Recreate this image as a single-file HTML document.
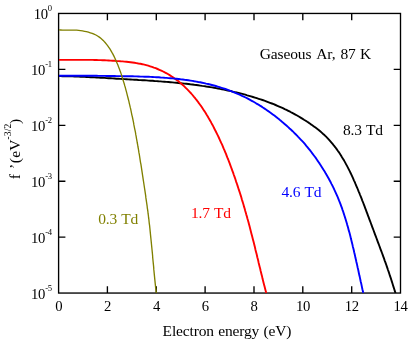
<!DOCTYPE html><html><head><meta charset="utf-8"><style>html,body{margin:0;padding:0;background:#fff}</style></head><body><svg width="411" height="342" viewBox="0 0 411 342" style="display:block;will-change:transform;font-family:'Liberation Serif',serif">
<rect width="411" height="342" fill="#fff"/>
<g stroke="#000" stroke-width="1.35" fill="none">
<rect x="58.6" y="13.45" width="341.9" height="279.6"/>
<path d="M107.4,293.0v-6.8M107.4,13.45v6.8M156.3,293.0v-6.8M156.3,13.45v6.8M205.1,293.0v-6.8M205.1,13.45v6.8M254.0,293.0v-6.8M254.0,13.45v6.8M302.8,293.0v-6.8M302.8,13.45v6.8M351.7,293.0v-6.8M351.7,13.45v6.8M58.6,237.1h6.8M400.5,237.1h-6.8M58.6,181.2h6.8M400.5,181.2h-6.8M58.6,125.3h6.8M400.5,125.3h-6.8M58.6,69.4h6.8M400.5,69.4h-6.8"/>
</g>
<clipPath id="c"><rect x="59.0" y="13.45" width="341.5" height="280.05"/></clipPath>
<g fill="none" stroke-linejoin="round" clip-path="url(#c)">
<path d="M58.6,76.1 L60.6,76.1 L62.6,76.2 L64.6,76.2 L66.6,76.2 L68.6,76.3 L70.6,76.3 L72.6,76.4 L74.6,76.5 L76.6,76.5 L78.6,76.6 L80.6,76.7 L82.6,76.8 L84.6,76.9 L86.6,77.0 L88.6,77.1 L90.6,77.2 L92.6,77.3 L94.6,77.4 L96.6,77.5 L98.6,77.6 L100.6,77.7 L102.6,77.8 L104.6,77.9 L106.6,78.1 L108.6,78.2 L110.5,78.3 L112.5,78.4 L114.5,78.5 L116.5,78.7 L118.5,78.8 L120.5,78.9 L122.5,79.0 L124.5,79.1 L126.5,79.2 L128.5,79.4 L130.5,79.5 L132.5,79.6 L134.5,79.7 L136.5,79.8 L138.5,80.0 L140.5,80.1 L142.5,80.2 L144.5,80.3 L146.5,80.4 L148.5,80.6 L150.5,80.7 L152.5,80.8 L154.5,81.0 L156.5,81.1 L158.5,81.3 L160.5,81.4 L162.4,81.6 L164.4,81.7 L166.4,81.9 L168.4,82.0 L170.4,82.2 L172.4,82.4 L174.4,82.6 L176.4,82.8 L178.4,83.0 L180.4,83.2 L182.4,83.4 L184.4,83.6 L186.3,83.8 L188.3,84.0 L190.3,84.3 L192.3,84.5 L194.3,84.8 L196.3,85.0 L198.2,85.3 L200.2,85.6 L202.2,85.9 L204.2,86.1 L206.2,86.5 L208.1,86.8 L210.1,87.1 L212.1,87.4 L214.1,87.8 L216.0,88.1 L218.0,88.5 L220.0,88.9 L221.9,89.2 L223.9,89.6 L225.8,90.0 L227.8,90.5 L229.7,90.9 L231.7,91.3 L233.6,91.8 L235.6,92.3 L237.5,92.7 L239.5,93.2 L241.4,93.7 L243.3,94.2 L245.3,94.7 L247.2,95.3 L249.1,95.8 L251.0,96.4 L253.0,97.0 L254.9,97.6 L256.8,98.2 L258.7,98.8 L260.6,99.4 L262.5,100.0 L264.4,100.7 L266.2,101.4 L268.1,102.1 L270.0,102.8 L271.9,103.5 L273.7,104.2 L275.6,105.0 L277.4,105.8 L279.2,106.6 L281.1,107.4 L282.9,108.2 L284.7,109.1 L286.5,109.9 L288.3,110.8 L290.1,111.7 L291.8,112.7 L293.6,113.6 L295.4,114.6 L297.1,115.5 L298.8,116.5 L300.6,117.6 L302.3,118.6 L304.0,119.7 L305.7,120.7 L307.3,121.8 L309.0,122.9 L310.6,124.1 L312.3,125.2 L313.9,126.4 L315.5,127.6 L317.1,128.8 L318.7,130.0 L320.2,131.3 L321.7,132.6 L323.2,134.0 L324.7,135.3 L326.1,136.7 L327.5,138.1 L328.9,139.6 L330.2,141.1 L331.5,142.6 L332.8,144.1 L334.0,145.7 L335.3,147.3 L336.5,148.9 L337.6,150.5 L338.8,152.1 L339.9,153.8 L341.0,155.5 L342.0,157.2 L343.1,158.9 L344.1,160.6 L345.1,162.4 L346.0,164.1 L347.0,165.9 L347.9,167.6 L348.8,169.4 L349.7,171.2 L350.6,173.0 L351.5,174.8 L352.3,176.6 L353.1,178.4 L353.9,180.3 L354.8,182.1 L355.5,183.9 L356.3,185.8 L357.1,187.6 L357.9,189.5 L358.6,191.3 L359.4,193.2 L360.1,195.0 L360.9,196.9 L361.6,198.7 L362.3,200.6 L363.1,202.5 L363.8,204.3 L364.5,206.2 L365.2,208.1 L365.9,209.9 L366.6,211.8 L367.3,213.7 L368.0,215.6 L368.7,217.4 L369.4,219.3 L370.1,221.2 L370.8,223.0 L371.5,224.9 L372.2,226.8 L372.9,228.7 L373.6,230.5 L374.3,232.4 L375.0,234.3 L375.7,236.2 L376.4,238.0 L377.1,239.9 L377.8,241.8 L378.5,243.7 L379.2,245.5 L379.9,247.4 L380.6,249.3 L381.3,251.2 L382.0,253.0 L382.7,254.9 L383.4,256.8 L384.1,258.7 L384.7,260.6 L385.4,262.4 L386.1,264.3 L386.7,266.2 L387.4,268.1 L388.0,270.0 L388.7,271.9 L389.3,273.8 L389.9,275.7 L390.6,277.6 L391.2,279.5 L391.8,281.4 L392.4,283.3 L393.0,285.2 L393.6,287.1 L394.2,289.0 L394.8,290.9 L395.4,292.8 L395.4,293.0" stroke="#000" stroke-width="1.9"/>
<path d="M58.6,59.9 L60.6,59.9 L62.6,59.9 L64.6,59.9 L66.6,59.9 L68.6,59.9 L70.6,59.9 L72.6,59.9 L74.6,59.9 L76.6,59.9 L78.6,59.9 L80.6,59.9 L82.6,59.9 L84.6,59.9 L86.6,59.9 L88.6,59.9 L90.6,59.9 L92.6,59.9 L94.6,60.0 L96.6,60.0 L98.6,60.1 L100.6,60.1 L102.6,60.2 L104.6,60.3 L106.6,60.4 L108.6,60.5 L110.6,60.6 L112.6,60.7 L114.6,60.8 L116.6,61.0 L118.6,61.1 L120.6,61.3 L122.6,61.4 L124.5,61.6 L126.5,61.8 L128.5,62.0 L130.5,62.2 L132.5,62.5 L134.5,62.8 L136.4,63.1 L138.4,63.5 L140.4,63.8 L142.3,64.2 L144.3,64.7 L146.2,65.2 L148.2,65.7 L150.1,66.3 L152.0,66.9 L153.9,67.6 L155.7,68.2 L157.6,69.0 L159.4,69.8 L161.3,70.6 L163.1,71.5 L164.8,72.4 L166.6,73.3 L168.3,74.3 L170.0,75.4 L171.7,76.5 L173.4,77.6 L175.0,78.7 L176.6,79.9 L178.2,81.1 L179.8,82.4 L181.3,83.7 L182.8,85.0 L184.3,86.4 L185.7,87.8 L187.1,89.2 L188.5,90.6 L189.9,92.1 L191.2,93.5 L192.5,95.0 L193.8,96.6 L195.1,98.1 L196.3,99.7 L197.6,101.3 L198.7,102.9 L199.9,104.5 L201.1,106.1 L202.2,107.8 L203.3,109.5 L204.4,111.1 L205.5,112.8 L206.5,114.5 L207.6,116.2 L208.6,118.0 L209.6,119.7 L210.6,121.4 L211.5,123.2 L212.5,124.9 L213.4,126.7 L214.3,128.5 L215.2,130.3 L216.1,132.0 L217.0,133.8 L217.9,135.6 L218.8,137.5 L219.6,139.3 L220.4,141.1 L221.2,142.9 L222.1,144.7 L222.9,146.6 L223.6,148.4 L224.4,150.2 L225.2,152.1 L226.0,153.9 L226.7,155.8 L227.4,157.7 L228.2,159.5 L228.9,161.4 L229.6,163.2 L230.3,165.1 L231.0,167.0 L231.7,168.9 L232.4,170.8 L233.1,172.6 L233.7,174.5 L234.4,176.4 L235.1,178.3 L235.7,180.2 L236.3,182.1 L237.0,184.0 L237.6,185.9 L238.2,187.8 L238.8,189.7 L239.5,191.6 L240.1,193.5 L240.7,195.4 L241.3,197.3 L241.8,199.2 L242.4,201.1 L243.0,203.1 L243.6,205.0 L244.1,206.9 L244.7,208.8 L245.2,210.7 L245.8,212.7 L246.3,214.6 L246.9,216.5 L247.4,218.4 L248.0,220.4 L248.5,222.3 L249.0,224.2 L249.5,226.1 L250.0,228.1 L250.5,230.0 L251.0,232.0 L251.5,233.9 L252.0,235.8 L252.5,237.8 L253.0,239.7 L253.5,241.6 L254.0,243.6 L254.5,245.5 L255.0,247.5 L255.4,249.4 L255.9,251.4 L256.4,253.3 L256.9,255.2 L257.3,257.2 L257.8,259.1 L258.3,261.1 L258.7,263.0 L259.2,265.0 L259.7,266.9 L260.2,268.8 L260.6,270.8 L261.1,272.7 L261.6,274.7 L262.1,276.6 L262.5,278.6 L263.0,280.5 L263.5,282.4 L264.0,284.4 L264.5,286.3 L265.0,288.3 L265.5,290.2 L266.0,292.1 L266.2,293.0" stroke="#ff0000" stroke-width="1.9"/>
<path d="M58.6,75.7 L60.6,75.7 L62.6,75.7 L64.6,75.7 L66.6,75.7 L68.6,75.7 L70.6,75.7 L72.6,75.7 L74.6,75.7 L76.6,75.7 L78.6,75.7 L80.6,75.7 L82.6,75.8 L84.6,75.8 L86.6,75.8 L88.6,75.8 L90.6,75.8 L92.6,75.8 L94.6,75.8 L96.6,75.8 L98.6,75.9 L100.6,75.9 L102.6,75.9 L104.6,75.9 L106.6,76.0 L108.6,76.0 L110.6,76.0 L112.6,76.0 L114.6,76.0 L116.6,76.1 L118.6,76.1 L120.6,76.1 L122.6,76.2 L124.6,76.2 L126.6,76.2 L128.6,76.3 L130.6,76.3 L132.6,76.3 L134.6,76.4 L136.6,76.4 L138.6,76.5 L140.6,76.6 L142.6,76.6 L144.6,76.7 L146.6,76.8 L148.6,76.8 L150.6,76.9 L152.6,77.0 L154.6,77.1 L156.6,77.2 L158.6,77.3 L160.6,77.5 L162.6,77.6 L164.6,77.8 L166.6,77.9 L168.5,78.1 L170.5,78.2 L172.5,78.4 L174.5,78.6 L176.5,78.8 L178.5,79.0 L180.5,79.3 L182.5,79.5 L184.5,79.8 L186.4,80.0 L188.4,80.3 L190.4,80.6 L192.4,80.9 L194.3,81.3 L196.3,81.6 L198.3,82.0 L200.2,82.3 L202.2,82.7 L204.2,83.1 L206.1,83.6 L208.1,84.0 L210.0,84.5 L211.9,85.0 L213.9,85.5 L215.8,86.0 L217.7,86.6 L219.6,87.2 L221.6,87.8 L223.5,88.4 L225.4,89.0 L227.2,89.7 L229.1,90.4 L231.0,91.1 L232.9,91.8 L234.7,92.6 L236.5,93.3 L238.4,94.1 L240.2,94.9 L242.0,95.8 L243.8,96.6 L245.6,97.5 L247.4,98.4 L249.2,99.4 L250.9,100.3 L252.7,101.3 L254.4,102.3 L256.1,103.3 L257.9,104.3 L259.6,105.4 L261.3,106.4 L262.9,107.5 L264.6,108.6 L266.3,109.7 L267.9,110.9 L269.5,112.0 L271.2,113.2 L272.8,114.4 L274.4,115.6 L275.9,116.8 L277.5,118.1 L279.1,119.3 L280.6,120.6 L282.2,121.9 L283.7,123.2 L285.2,124.5 L286.7,125.8 L288.2,127.1 L289.6,128.5 L291.1,129.8 L292.6,131.2 L294.0,132.6 L295.4,134.0 L296.8,135.4 L298.2,136.9 L299.6,138.3 L301.0,139.8 L302.3,141.2 L303.7,142.7 L305.0,144.2 L306.3,145.8 L307.6,147.3 L308.8,148.8 L310.1,150.4 L311.3,152.0 L312.5,153.6 L313.7,155.2 L314.9,156.8 L316.1,158.4 L317.2,160.1 L318.3,161.7 L319.5,163.4 L320.5,165.0 L321.6,166.7 L322.7,168.4 L323.7,170.1 L324.8,171.8 L325.8,173.6 L326.8,175.3 L327.8,177.0 L328.8,178.8 L329.7,180.5 L330.7,182.3 L331.6,184.1 L332.5,185.8 L333.4,187.6 L334.2,189.4 L335.1,191.3 L335.9,193.1 L336.7,194.9 L337.5,196.7 L338.3,198.6 L339.0,200.4 L339.8,202.3 L340.5,204.2 L341.2,206.1 L341.9,207.9 L342.5,209.8 L343.2,211.7 L343.8,213.6 L344.4,215.5 L345.0,217.4 L345.6,219.3 L346.2,221.2 L346.8,223.2 L347.3,225.1 L347.9,227.0 L348.4,228.9 L348.9,230.9 L349.5,232.8 L350.0,234.7 L350.5,236.7 L350.9,238.6 L351.4,240.5 L351.9,242.5 L352.4,244.4 L352.8,246.4 L353.3,248.3 L353.8,250.3 L354.2,252.2 L354.7,254.2 L355.1,256.1 L355.5,258.1 L356.0,260.0 L356.4,262.0 L356.9,263.9 L357.3,265.9 L357.7,267.8 L358.2,269.8 L358.6,271.7 L359.0,273.7 L359.4,275.6 L359.9,277.6 L360.3,279.5 L360.7,281.5 L361.2,283.4 L361.6,285.4 L362.0,287.4 L362.4,289.3 L362.9,291.3 L363.2,292.9" stroke="#0000ff" stroke-width="1.9"/>
<path d="M58.6,29.9 L60.6,30.0 L62.6,30.1 L64.6,30.1 L66.6,30.1 L68.6,30.1 L70.6,30.1 L72.6,30.1 L74.6,30.1 L76.6,30.1 L78.6,30.3 L80.6,30.6 L82.5,30.9 L84.5,31.3 L86.4,31.7 L88.4,32.2 L90.3,32.8 L92.2,33.4 L94.0,34.2 L95.9,35.0 L97.6,36.0 L99.3,37.1 L100.8,38.3 L102.4,39.7 L103.8,41.1 L105.1,42.5 L106.4,44.1 L107.6,45.6 L108.8,47.3 L109.9,48.9 L110.9,50.6 L111.9,52.4 L112.9,54.1 L113.8,55.9 L114.7,57.7 L115.5,59.5 L116.3,61.4 L117.1,63.2 L117.9,65.1 L118.6,66.9 L119.3,68.8 L120.0,70.7 L120.7,72.6 L121.3,74.4 L121.9,76.3 L122.5,78.3 L123.1,80.2 L123.7,82.1 L124.3,84.0 L124.8,85.9 L125.4,87.8 L125.9,89.8 L126.4,91.7 L126.9,93.6 L127.4,95.6 L127.9,97.5 L128.4,99.5 L128.9,101.4 L129.3,103.3 L129.8,105.3 L130.2,107.2 L130.7,109.2 L131.1,111.1 L131.5,113.1 L131.9,115.1 L132.4,117.0 L132.8,119.0 L133.2,120.9 L133.6,122.9 L133.9,124.9 L134.3,126.8 L134.7,128.8 L135.1,130.7 L135.5,132.7 L135.8,134.7 L136.2,136.6 L136.5,138.6 L136.9,140.6 L137.2,142.5 L137.6,144.5 L137.9,146.5 L138.3,148.5 L138.6,150.4 L138.9,152.4 L139.3,154.4 L139.6,156.3 L139.9,158.3 L140.2,160.3 L140.5,162.3 L140.9,164.2 L141.2,166.2 L141.5,168.2 L141.8,170.2 L142.1,172.1 L142.4,174.1 L142.7,176.1 L143.0,178.1 L143.3,180.1 L143.6,182.0 L143.9,184.0 L144.2,186.0 L144.5,188.0 L144.8,189.9 L145.1,191.9 L145.4,193.9 L145.7,195.9 L145.9,197.9 L146.2,199.8 L146.5,201.8 L146.8,203.8 L147.1,205.8 L147.3,207.8 L147.6,209.7 L147.9,211.7 L148.1,213.7 L148.4,215.7 L148.6,217.7 L148.9,219.7 L149.1,221.7 L149.3,223.6 L149.6,225.6 L149.8,227.6 L150.0,229.6 L150.2,231.6 L150.4,233.6 L150.6,235.6 L150.8,237.6 L151.0,239.5 L151.2,241.5 L151.4,243.5 L151.6,245.5 L151.8,247.5 L152.0,249.5 L152.2,251.5 L152.4,253.5 L152.6,255.5 L152.7,257.5 L152.9,259.5 L153.1,261.5 L153.3,263.4 L153.5,265.4 L153.7,267.4 L153.8,269.4 L154.0,271.4 L154.2,273.4 L154.4,275.4 L154.6,277.4 L154.8,279.4 L155.0,281.4 L155.2,283.4 L155.4,285.3 L155.6,287.3 L155.9,289.3 L156.1,291.3 L156.3,293.0" stroke="#808000" stroke-width="1.35"/>
</g>
<g font-size="14.7" letter-spacing="-0.3">
<text x="58.8" y="310.8" text-anchor="middle" fill="#000">0</text>
<text x="107.6" y="310.8" text-anchor="middle" fill="#000">2</text>
<text x="156.4" y="310.8" text-anchor="middle" fill="#000">4</text>
<text x="205.3" y="310.8" text-anchor="middle" fill="#000">6</text>
<text x="254.1" y="310.8" text-anchor="middle" fill="#000">8</text>
<text x="303.0" y="310.8" text-anchor="middle" fill="#000">10</text>
<text x="351.8" y="310.8" text-anchor="middle" fill="#000">12</text>
<text x="400.6" y="310.8" text-anchor="middle" fill="#000">14</text>
<text x="51.9" y="19.1" text-anchor="end" fill="#000">10<tspan font-size="8.6" dy="-8.1" letter-spacing="-0.2">0</tspan></text>
<text x="51.9" y="75.1" text-anchor="end" fill="#000">10<tspan font-size="8.6" dy="-8.1" letter-spacing="-0.2">-1</tspan></text>
<text x="51.9" y="131.0" text-anchor="end" fill="#000">10<tspan font-size="8.6" dy="-8.1" letter-spacing="-0.2">-2</tspan></text>
<text x="51.9" y="186.9" text-anchor="end" fill="#000">10<tspan font-size="8.6" dy="-8.1" letter-spacing="-0.2">-3</tspan></text>
<text x="51.9" y="242.8" text-anchor="end" fill="#000">10<tspan font-size="8.6" dy="-8.1" letter-spacing="-0.2">-4</tspan></text>
<text x="51.9" y="298.7" text-anchor="end" fill="#000">10<tspan font-size="8.6" dy="-8.1" letter-spacing="-0.2">-5</tspan></text>
</g>
<g font-size="15.5" letter-spacing="-0.15" word-spacing="0.6">
<text x="162.6" y="336.3" text-anchor="start" fill="#000">Electron energy (eV)</text>
<g transform="translate(19.9,178.9) rotate(-90)"><text x="-0.3" y="0">f</text><text x="9.8" y="0">&#8217;</text><text x="15.6" y="0" letter-spacing="0.3">(eV</text><text x="39.4" y="-9.1" font-size="9.6" letter-spacing="0.1">-3/2</text><text x="54.8" y="0">)</text></g>
<text x="259.8" y="58.6" text-anchor="start" fill="#000">Gaseous</text><text x="316.3" y="58.6" text-anchor="start" fill="#000">Ar,</text><text x="340.4" y="58.6" text-anchor="start" fill="#000">87</text><text x="359.9" y="58.6" text-anchor="start" fill="#000">K</text>
<text x="343.0" y="135.1" text-anchor="start" fill="#000">8.3 Td</text>
<text x="281.5" y="197.4" text-anchor="start" fill="#0000ff">4.6 Td</text>
<text x="191.0" y="218.3" text-anchor="start" fill="#ff0000">1.7 Td</text>
<text x="98.2" y="223.5" text-anchor="start" fill="#808000">0.3 Td</text>
</g>
</svg></body></html>
